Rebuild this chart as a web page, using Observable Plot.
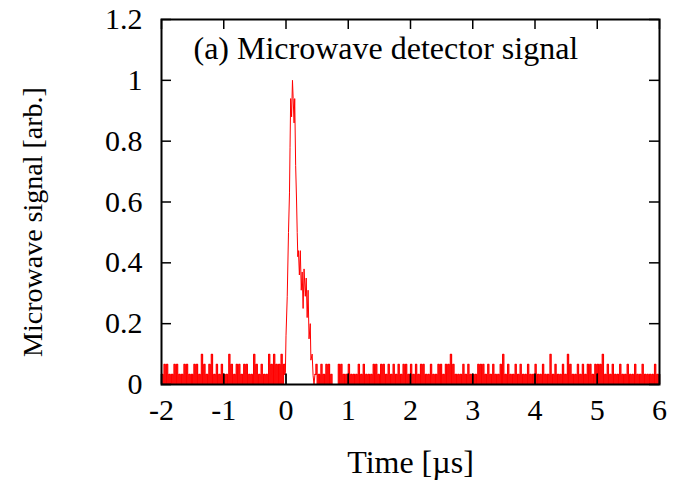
<!DOCTYPE html>
<html><head><meta charset="utf-8">
<script src="https://cdn.jsdelivr.net/npm/d3@7"></script>
<script src="https://cdn.jsdelivr.net/npm/@observablehq/plot@0.6"></script>
<style>body{margin:0;background:#fff}</style>
</head><body><div id="chart"></div>
<script>
const title = "(a) Microwave detector signal";
const xLabel = "Time [µs]";
const yLabel = "Microwave signal [arb.]";
const xTicks = [-2, -1, 0, 1, 2, 3, 4, 5, 6];
const yTicks = [0, 0.2, 0.4, 0.6, 0.8, 1, 1.2];

// digitised noise: each digit is one sample, value = digit * noiseLevel
const noiseStep = 0.02;
const noiseLevel = 0.033;
const noiseBeforeStart = -2.0;
const noiseBefore =
  "1020201010" + "2020101020" + "2010102020" + "1030201020" + "3010201020" +
  "1010302010" + "2020102020" + "1010302010" + "2010103020" + "302020302";
const noiseAfterStart = 0.48;
const noiseAfter =
  "2010201020" + "2010000020" + "2010102010" + "1010201020" + "1010102020" +
  "1020201020" + "1020102010" + "2020102010" + "2010202010" + "1020101020" +
  "2010202030" + "2010101020" + "1020101010" + "2020201020" + "1020101020" +
  "3010201010" + "2010201010" + "2010102010" + "1020101030" + "1020101020" +
  "1030201010" + "2010201020" + "2010202020" + "3010201020" + "1010201010" +
  "2010102010" + "1020101010" + "1020101";

// pulse
const peakTime = [-0.02, -0.01, 0.0, 0.02, 0.04, 0.056, 0.065, 0.075, 0.09, 0.104, 0.115, 0.13, 0.14,
  0.155, 0.17, 0.18, 0.19, 0.2, 0.215, 0.23, 0.245, 0.26, 0.275, 0.29, 0.31, 0.325, 0.34, 0.355,
  0.37, 0.39, 0.40, 0.42, 0.435, 0.45, 0.465];
const peakValue = [0.033, 0.04, 0.16, 0.29, 0.5, 0.63, 0.78, 0.94, 0.88, 1.0, 0.94, 0.86, 0.94,
  0.72, 0.6, 0.5, 0.42, 0.44, 0.36, 0.44, 0.31, 0.37, 0.25, 0.38, 0.29, 0.35, 0.22, 0.31,
  0.15, 0.2, 0.08, 0.1, 0.03, 0.0, 0.033];

// black trace (trigger markers)
const markerTimes = [-1, 0, 1, 2, 3, 4, 5];
const markerValue = 0.035;

const before = [...noiseBefore].map((d, i) => ({t: noiseBeforeStart + i * noiseStep, v: +d * noiseLevel}));
const pulse = peakTime.map((t, i) => ({t, v: peakValue[i]}));
const after = [...noiseAfter].map((d, i) => ({t: noiseAfterStart + i * noiseStep, v: +d * noiseLevel}));

const font = "Liberation Serif, Times New Roman, serif";
const redLine = {x: "t", y: "v", stroke: "#ff0000", strokeWidth: 1};
const noiseLine = {x: "t", y: "v", stroke: "#ff0000", strokeWidth: 1.2, curve: "step-after"};
const chart = Plot.plot({
  width: 675, height: 486,
  marginLeft: 161, marginRight: 16, marginTop: 19, marginBottom: 102,
  style: {fontFamily: font, fontSize: "30px", background: "#fff", color: "#000"},
  x: {domain: [-2, 6]},
  y: {domain: [0, 1.2]},
  marks: [
    Plot.line(before.concat([pulse[0]]), noiseLine),
    Plot.line(pulse, redLine),
    Plot.line([pulse[pulse.length - 1]].concat(after), noiseLine),
    Plot.ruleY([0], {stroke: "#000", strokeWidth: 1}),
    Plot.ruleX(markerTimes, {x: d => d, y1: 0, y2: markerValue, stroke: "#000", strokeWidth: 1.2}),
    Plot.frame({stroke: "#000", strokeWidth: 2}),
    Plot.tickX(xTicks, {x: d => d, insetTop: 355, stroke: "#000", strokeWidth: 1.5}),
    Plot.tickX(xTicks, {x: d => d, insetBottom: 355, stroke: "#000", strokeWidth: 1.5}),
    Plot.tickY(yTicks, {y: d => d, insetRight: 488, stroke: "#000", strokeWidth: 1.5}),
    Plot.tickY(yTicks, {y: d => d, insetLeft: 488, stroke: "#000", strokeWidth: 1.5}),
    Plot.axisX(xTicks, {tickSize: 0, tickPadding: 14, tickFormat: d => String(d), fontSize: 30, label: null}),
    Plot.axisY(yTicks, {tickSize: 0, tickPadding: 19, tickFormat: d => String(d), fontSize: 30, label: null}),
    Plot.text([xLabel], {frameAnchor: "bottom", dy: 78, lineAnchor: "middle", textAnchor: "middle", fontSize: 32, fill: "#000"}),
    Plot.text([yLabel], {frameAnchor: "left", dx: -128, dy: 20, rotate: -90, textAnchor: "middle", lineAnchor: "middle", fontSize: 28, fill: "#000"}),
    Plot.text([title], {frameAnchor: "top-left", dx: 32, dy: 29, textAnchor: "start", lineAnchor: "middle", fontSize: 32, fill: "#000"})
  ]
});
document.getElementById("chart").append(chart);
</script>
</body></html>
